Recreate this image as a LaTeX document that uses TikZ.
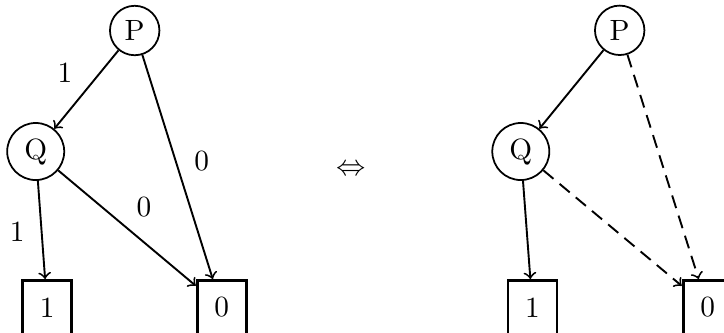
\documentclass[tikz,border=0pt]{standalone}
\usetikzlibrary{arrows}
\begin{document}
\begin{tikzpicture}[x=0.012cm,y=-0.012cm,
  vnode/.style={circle,draw,line width=0.6pt,inner sep=0pt},
  pnode/.style={vnode,minimum size=0.593cm},
  qnode/.style={vnode,minimum size=0.684cm},
  leaf/.style={rectangle,draw,line width=1pt,inner sep=0pt,minimum width=0.588cm,minimum height=0.648cm},
  edge/.style={->,line width=0.65pt},
  dedge/.style={edge,dash pattern=on 4.5pt off 2.7pt},
  lbl/.style={inner sep=0pt}]
\useasboundingbox (0,0) rectangle (724,332);
% left diagram
\node[pnode] (P1) at (134.7,30.5) {P};
\node[qnode] (Q1) at (35.7,151.5) {Q};
\node[leaf] (A1) at (47.2,307.5) {1};
\node[leaf] (B1) at (221.7,307.5) {0};
\draw[edge] (P1) -- (Q1);
\draw[edge] (P1) -- (B1);
\draw[edge] (Q1) -- (A1);
\draw[edge] (Q1) -- (B1);
\node[lbl] (l1) at (65,72.7) {1};
\node[lbl] (l2) at (201.7,161) {0};
\node[lbl] (l3) at (144,206.7) {0};
\node[lbl] (l4) at (17.3,231.7) {1};
% equivalence
\node[lbl] (eq) at (351,170) {$\Leftrightarrow$};
% right diagram
\node[pnode] (P2) at (619.7,30.3) {P};
\node[qnode] (Q2) at (520.8,151.5) {Q};
\node[leaf] (A2) at (532.5,307.5) {1};
\node[leaf] (B2) at (707.7,307.5) {0};
\draw[edge] (P2) -- (Q2);
\draw[dedge] (P2) -- (B2);
\draw[edge] (Q2) -- (A2);
\draw[dedge] (Q2) -- (B2);
\end{tikzpicture}
\end{document}
